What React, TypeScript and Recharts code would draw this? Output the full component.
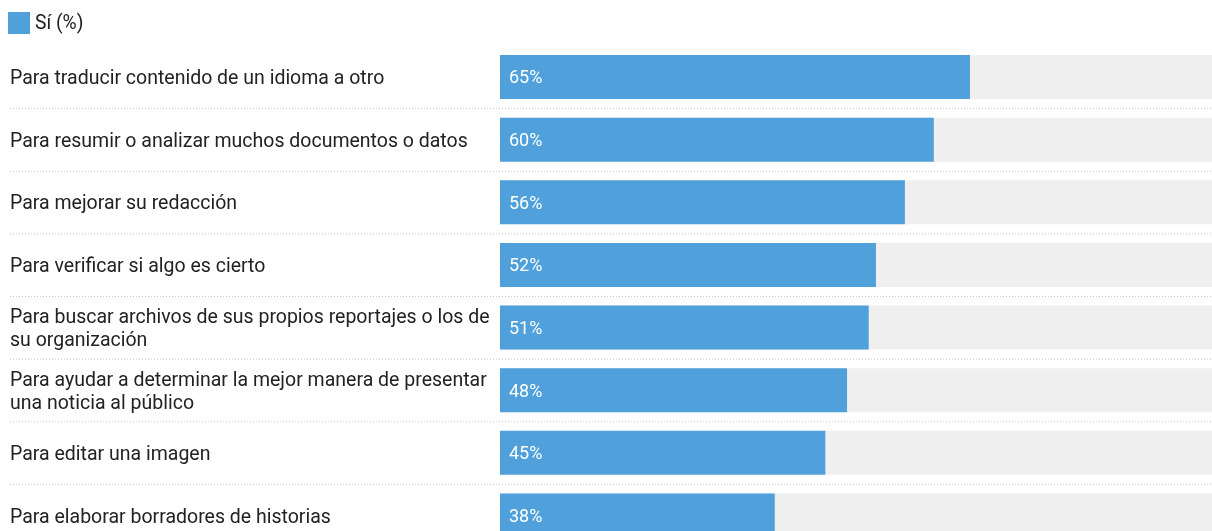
import React from "react";
import { BarChart, Bar, XAxis, YAxis, LabelList, Legend } from "recharts";

const categories = [
  "Para traducir contenido de un idioma a otro",
  "Para resumir o analizar muchos documentos o datos",
  "Para mejorar su redacción",
  "Para verificar si algo es cierto",
  "Para buscar archivos de sus propios reportajes o los de su organización",
  "Para ayudar a determinar la mejor manera de presentar una noticia al público",
  "Para editar una imagen",
  "Para elaborar borradores de historias",
];
const siValues = [65, 60, 56, 52, 51, 48, 45, 38];
const seriesName = "Sí (%)";

const data = categories.map((name, i) => ({ name, value: siValues[i] }));

const BLUE = "#50a0db";
const FONT = "Roboto, 'Noto Sans', sans-serif";
const LABEL_SIZE = 19.5;
const CHART_W = 1215;
const WRAP_W = 488;
const LINE_H = 22.5;

let measureCtx: CanvasRenderingContext2D | null = null;
function measure(text: string): number {
  if (!measureCtx) {
    const c = document.createElement("canvas");
    measureCtx = c.getContext("2d");
  }
  if (!measureCtx) return text.length * LABEL_SIZE * 0.5;
  measureCtx.font = `${LABEL_SIZE}px Roboto`;
  return measureCtx.measureText(text).width;
}

function wrap(text: string, maxW: number): string[] {
  const words = text.split(" ");
  const lines: string[] = [];
  let cur = "";
  for (const w of words) {
    const t = cur ? cur + " " + w : w;
    if (cur && measure(t) > maxW) {
      lines.push(cur);
      cur = w;
    } else {
      cur = t;
    }
  }
  if (cur) lines.push(cur);
  return lines;
}

const CategoryTick = (props: any) => {
  const { y, payload, index } = props;
  const half = payload && payload.offset ? payload.offset : 31.3;
  const lines = wrap(String(payload.value), WRAP_W);
  const n = lines.length;
  return (
    <g>
      <text
        x={2}
        y={y}
        textAnchor="start"
        fontSize={LABEL_SIZE}
        fontFamily={FONT}
        fill="#222"
      >
        {lines.map((ln, i) => (
          <tspan key={i} x={2} y={y + (i - (n - 1) / 2) * LINE_H} dy="0.355em">
            {ln}
          </tspan>
        ))}
      </text>
      {index < categories.length - 1 && (
        <line
          x1={2}
          x2={CHART_W}
          y1={y + half}
          y2={y + half}
          stroke="#c4c4c4"
          strokeWidth={1}
          strokeDasharray="1 2"
        />
      )}
    </g>
  );
};

const LegendContent = () => (
  <div style={{ display: "flex", alignItems: "center", paddingTop: 4, fontFamily: FONT, lineHeight: "22px" }}>
    <span style={{ display: "inline-block", width: 22, height: 22, background: BLUE }} />
    <span style={{ marginLeft: 5, fontSize: 19.3, color: "#222" }}>{seriesName}</span>
  </div>
);

export default function App() {
  return (
    <div
      style={{
        position: "fixed",
        left: 0,
        top: 0,
        width: 1212,
        height: 531,
        overflow: "hidden",
      }}
    >
      <div style={{ position: "absolute", left: 8, top: 8 }}>
        <BarChart
          layout="vertical"
          width={CHART_W}
          height={539}
          data={data}
          margin={{ top: 0, right: 0, left: 0, bottom: 0 }}
        >
          <Legend
            verticalAlign="top"
            align="left"
            height={38}
            content={<LegendContent />}
          />
          <XAxis type="number" domain={[0, 100]} hide />
          <YAxis
            type="category"
            dataKey="name"
            width={492}
            axisLine={false}
            tickLine={false}
            tick={<CategoryTick />}
            interval={0}
          />
          <Bar
            dataKey="value"
            name={seriesName}
            fill={BLUE}
            barSize={44}
            background={{ fill: "#efefef" }}
            isAnimationActive={false}
          >
            <LabelList
              dataKey="value"
              position="insideLeft"
              offset={9}
              fill="#ffffff"
              fontSize={18}
              fontFamily={FONT}
              formatter={(v: any) => `${v}%`}
            />
          </Bar>
        </BarChart>
      </div>
    </div>
  );
}
